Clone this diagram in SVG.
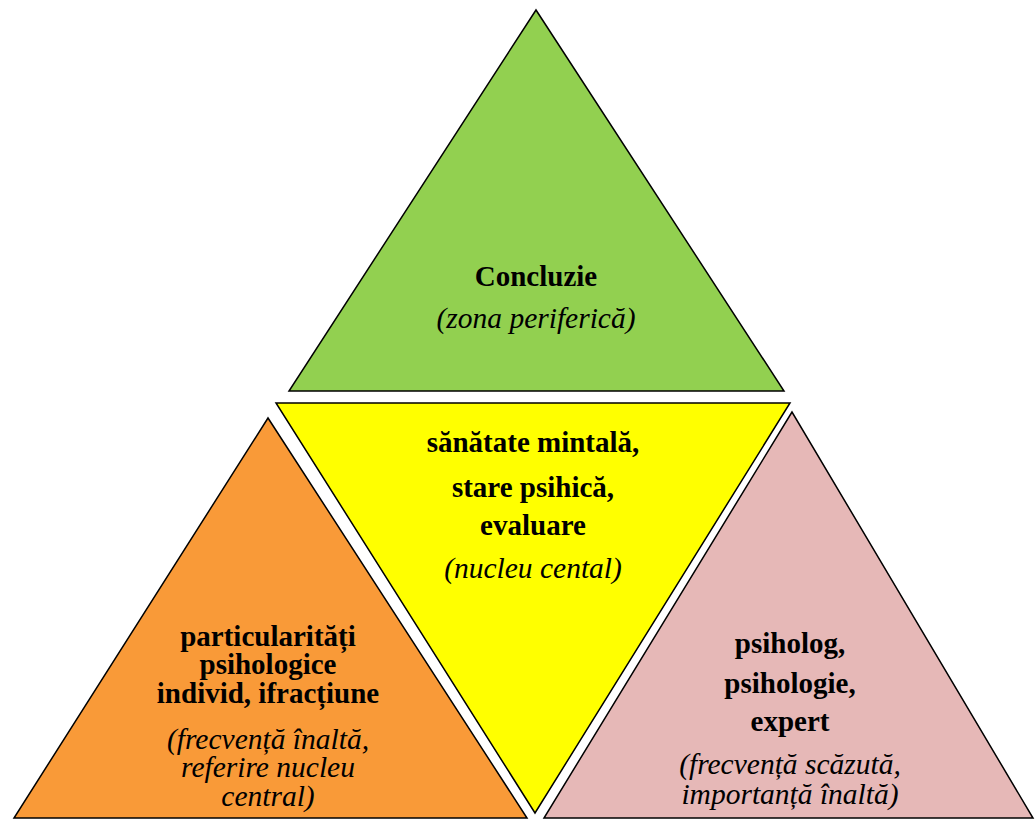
<svg xmlns="http://www.w3.org/2000/svg" width="1035" height="820" viewBox="0 0 1035 820">
<style>
.tri{stroke:#000;stroke-width:1.5;stroke-linejoin:miter}
.b{font-family:"Liberation Serif","Times New Roman",serif;font-weight:bold;font-size:29px;text-anchor:middle;fill:#000}
.i{font-family:"Liberation Serif","Times New Roman",serif;font-style:italic;font-size:29.5px;text-anchor:middle;fill:#000}
</style>
<rect width="1035" height="820" fill="#fff"/>
<g id="top">
<polygon class="tri" points="536,10 289,391 784,391" fill="#92D050"/>
<text class="b" x="536" y="286">Concluzie</text>
<text class="i" x="536" y="328">(zona periferică)</text>
</g>
<g id="center">
<polygon class="tri" points="276,403 790,403 535,813" fill="#FFFF00"/>
<text class="b" x="533" y="452">sănătate mintală,</text>
<text class="b" x="533" y="497">stare psihică,</text>
<text class="b" x="533" y="535">evaluare</text>
<text class="i" x="533" y="578">(nucleu cental)</text>
</g>
<g id="left">
<polygon class="tri" points="268,418 14,818 527,818" fill="#F99A38"/>
<text class="b" x="268" y="646">particularități</text>
<text class="b" x="268" y="674">psihologice</text>
<text class="b" x="268" y="703">individ, ifracțiune</text>
<text class="i" x="268" y="749">(frecvență înaltă,</text>
<text class="i" x="268" y="777">referire nucleu</text>
<text class="i" x="268" y="806">central)</text>
</g>
<g id="right">
<polygon class="tri" points="792,412 544,818 1033,818" fill="#E6B8B7"/>
<text class="b" x="790" y="653">psiholog,</text>
<text class="b" x="790" y="693">psihologie,</text>
<text class="b" x="790" y="731">expert</text>
<text class="i" x="790" y="774">(frecvență scăzută,</text>
<text class="i" x="790" y="804">importanță înaltă)</text>
</g>
<g id="connectors"/>
</svg>
